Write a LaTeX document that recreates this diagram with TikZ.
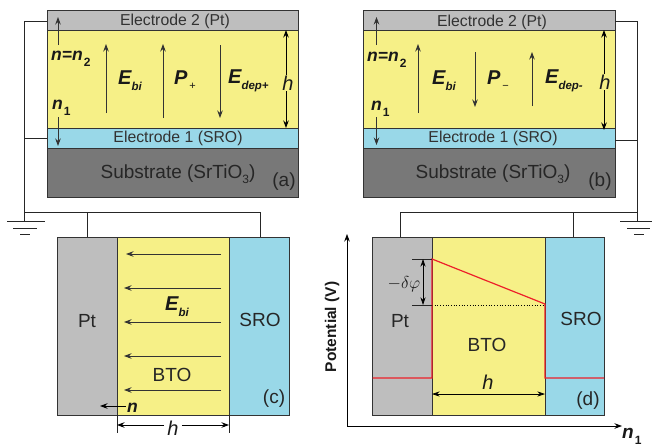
\documentclass[tikz,border=0pt]{standalone}
\usepackage{fontspec}
\setmainfont{Liberation Sans}
\usetikzlibrary{arrows.meta}
\definecolor{ptgray}{RGB}{190,190,190}
\definecolor{btoyel}{RGB}{246,240,135}
\definecolor{sroblue}{RGB}{153,216,232}
\definecolor{subgray}{RGB}{120,120,120}
\definecolor{txt}{RGB}{50,50,50}
\definecolor{redline}{RGB}{237,32,42}
\newcommand{\qty}[3]{{\fontsize{#3}{#3}\selectfont\bfseries\itshape #1}\raisebox{-6pt}{\fontsize{11.5}{11.5}\selectfont\bfseries\itshape #2}}
\newcommand{\qtyn}[3]{{\fontsize{#3}{#3}\selectfont\bfseries\itshape #1}\hspace{1pt}\raisebox{-6pt}{\fontsize{12}{12}\selectfont\bfseries #2}}
\tikzset{
  x=1pt,y=-1pt,
  layer/.style={draw=black!80,line width=0.7pt,inner sep=0pt,outer sep=0pt,anchor=north west,text=txt},
  wire/.style={draw=black!85,line width=0.7pt},
  fld/.style={draw=black!80,line width=0.8pt,-{Stealth[length=7.5pt,width=5.5pt]}},
  dimar/.style={draw=black,line width=0.7pt,{Stealth[length=7.5pt,width=5pt]}-{Stealth[length=7.5pt,width=5pt]}},
  lab/.style={inner sep=0pt,text=txt,font=\fontsize{15.8}{16}\selectfont},
  big/.style={inner sep=0pt,text=black!85,font=\fontsize{19}{20}\selectfont},
  sym/.style={inner sep=0pt,text=black!90},
  hlab/.style={inner sep=0pt,text=black!90,font=\fontsize{20}{20}\selectfont\itshape},
  red/.style={draw=redline,line width=1.2pt}
}
\begin{document}
\begin{tikzpicture}
\useasboundingbox (0,0) rectangle (652,447);
% panel a
\node[layer,fill=ptgray,minimum width=251pt,minimum height=20pt] (aE) at (47,10) {};
\node[lab] at (175,21) {Electrode 2 (Pt)};
\node[layer,fill=btoyel,minimum width=251pt,minimum height=98pt] (aB) at (47,30) {};
\node[layer,fill=sroblue,minimum width=251pt,minimum height=20pt] (aS) at (47,128) {};
\node[lab] at (178,138) {Electrode 1 (SRO)};
\node[layer,fill=subgray,minimum width=251pt,minimum height=49pt] (aG) at (47,148) {};
\node[big] at (178,174) {Substrate (SrTiO\raisebox{-5pt}{\fontsize{12}{12}\selectfont 3})};
\node[big] (alabel) at (284,182) {(a)};
\coordinate (a1) at (58,45); \coordinate (a2) at (58,17);
\draw[fld] (a1) -- (a2);
\coordinate (a3) at (58,117); \coordinate (a4) at (58,146);
\draw[fld] (a3) -- (a4);
\coordinate (a5) at (106,113); \coordinate (a6) at (106,44);
\draw[fld] (a5) -- (a6);
\coordinate (a7) at (163,118); \coordinate (a8) at (163,44);
\draw[fld] (a7) -- (a8);
\coordinate (a9) at (220,45); \coordinate (a10) at (220,118);
\draw[fld] (a9) -- (a10);
\node[sym,anchor=west] at (51,59) {\qtyn{n=n}{2}{17.5}};
\node[sym,anchor=west] at (52,108) {\qtyn{n}{1}{17.5}};
\node[sym,anchor=west] at (118,81) {\qty{E}{bi}{20}};
\node[sym,anchor=west] at (174,81) {\qty{P}{\,\raisebox{1pt}{\textnormal{\fontsize{11}{11}\selectfont +}}}{20}};
\node[sym,anchor=west] at (228,81) {\qty{E}{dep+}{20}};
\node[hlab] (ah) at (288,83) {h};
\coordinate (a11) at (286,30); \coordinate (a12) at (286,128);
\draw[fld,draw=black] (ah.north -| a11) ++(0,-1) -- (a11);
\draw[fld,draw=black] (ah.south -| a11) ++(0,1) -- (a12);
% panel b
\node[layer,fill=ptgray,minimum width=252pt,minimum height=20pt] (bE) at (363,10) {};
\node[lab] at (492,22) {Electrode 2 (Pt)};
\node[layer,fill=btoyel,minimum width=252pt,minimum height=98pt] (bB) at (363,30) {};
\node[layer,fill=sroblue,minimum width=252pt,minimum height=20pt] (bS) at (363,128) {};
\node[lab] at (493,138) {Electrode 1 (SRO)};
\node[layer,fill=subgray,minimum width=252pt,minimum height=49pt] (bG) at (363,148) {};
\node[big] at (493,174) {Substrate (SrTiO\raisebox{-5pt}{\fontsize{12}{12}\selectfont 3})};
\node[big] (blabel) at (600,182) {(b)};
\coordinate (b1) at (376.5,45); \coordinate (b2) at (376.5,17);
\draw[fld] (b1) -- (b2);
\coordinate (b3) at (376.5,117); \coordinate (b4) at (376.5,145);
\draw[fld] (b3) -- (b4);
\coordinate (b5) at (418,113); \coordinate (b6) at (418,44);
\draw[fld] (b5) -- (b6);
\coordinate (b7) at (475,52); \coordinate (b8) at (475,107);
\draw[fld] (b7) -- (b8);
\coordinate (b9) at (532,106); \coordinate (b10) at (532,52);
\draw[fld] (b9) -- (b10);
\node[sym,anchor=west] at (367,60) {\qtyn{n=n}{2}{17.5}};
\node[sym,anchor=west] at (371,109) {\qtyn{n}{1}{17.5}};
\node[sym,anchor=west] at (432,81) {\qty{E}{bi}{20}};
\node[sym,anchor=west] at (487,81) {\qty{P}{\,\raisebox{1pt}{\textnormal{\fontsize{11}{11}\selectfont −}}}{20}};
\node[sym,anchor=west] at (545,81) {\qty{E}{dep-}{20}};
\node[hlab] (bh) at (605,82) {h};
\coordinate (b11) at (604,30); \coordinate (b12) at (604,130);
\draw[fld,draw=black] (bh.north -| b11) ++(0,-1) -- (b11);
\draw[fld,draw=black] (bh.south -| b11) ++(0,1) -- (b12);
% panel c
\node[layer,fill=ptgray,minimum width=60pt,minimum height=178pt] (cP) at (57,237) {};
\node[layer,fill=btoyel,minimum width=112pt,minimum height=178pt] (cB) at (117,237) {};
\node[layer,fill=sroblue,minimum width=60pt,minimum height=178pt] (cS) at (229,237) {};
\node[big] at (87,321) {Pt};
\node[big] at (260,320) {SRO};
\node[big] at (172,375) {BTO};
\node[big] (clabel) at (274,399) {(c)};
\foreach \yy/\xx in {254/126,288/124,322/124,356/124,390/124}{
  \coordinate (cl\yy) at (221,\yy); \coordinate (cr\yy) at (\xx,\yy);
  \draw[fld] (cl\yy) -- (cr\yy);
}
\node[sym,anchor=west] at (165,307) {\qty{E}{bi}{20}};
\node[sym,anchor=west,font=\fontsize{17.5}{18}\selectfont\bfseries\itshape] (cn) at (127,408) {n};
\coordinate (cn2) at (100,406);
\draw[fld,draw=black] (cn.west |- cn2) ++(-1,0) -- (cn2);
\coordinate (ce1) at (117,415); \coordinate (ce2) at (117,433);
\coordinate (ce3) at (229,415); \coordinate (ce4) at (229,433);
\draw[wire] (ce1) -- (ce2);
\draw[wire] (ce3) -- (ce4);
\node[hlab] (ch) at (173,428) {h};
\coordinate (ch1) at (117,425); \coordinate (ch2) at (229,425);
\draw[fld,draw=black] (ch.west |- ch1) ++(-3,0) -- (ch1);
\draw[fld,draw=black] (ch.east |- ch2) ++(3,0) -- (ch2);
% panel d
\node[layer,fill=ptgray,minimum width=60pt,minimum height=178pt] (dP) at (372.5,237) {};
\node[layer,fill=btoyel,minimum width=113pt,minimum height=178pt] (dB) at (432,237) {};
\node[layer,fill=sroblue,minimum width=59pt,minimum height=178pt] (dS) at (545,237) {};
\node[big] at (400,321) {Pt};
\node[big] at (581,319) {SRO};
\node[big] at (487,345) {BTO};
\node[big] (dlabel) at (588,401) {(d)};
\coordinate (d1) at (372.5,378); \coordinate (d2) at (432,378);
\coordinate (d3) at (432,259); \coordinate (d4) at (545,304);
\coordinate (d5) at (545,378); \coordinate (d6) at (604,378);
\draw[black,line width=0.7pt,dotted] (432,305) -- (545,305);
\draw[red] (d1) -- (d2) -- (d3) -- (d4) -- (d5) -- (d6);
\coordinate (d7) at (412,259); \coordinate (d8) at (412,305); \coordinate (d9) at (432,305);
\draw[wire] (d7) -- (d3);
\draw[wire] (d8) -- (d9);
\coordinate (d10) at (423,259); \coordinate (d11) at (423,305);
\draw[dimar] (d10) -- (d11);
\node[sym,font=\fontsize{17}{17}\selectfont] at (404,284) {$-\delta\varphi$};
\node[hlab] at (488,382) {h};
\coordinate (d12) at (432,394); \coordinate (d13) at (545,394);
\draw[dimar] (d12) -- (d13);
% axes
\coordinate (o) at (347,426); \coordinate (yt) at (347,234); \coordinate (xt) at (622,426);
\draw[draw=black,line width=0.7pt,-{Stealth[length=7.5pt,width=5.5pt]}] (o) -- (yt);
\draw[draw=black,line width=0.7pt,-{Stealth[length=7.5pt,width=5.5pt]}] (o) -- (xt);
\node[sym,rotate=90,font=\fontsize{15.5}{16}\selectfont\bfseries] at (332,327) {Potential (V)};
\node[sym,anchor=west] at (622,436) {\qtyn{n}{1}{19}};
% wiring left
\coordinate (w1) at (24.5,21); \coordinate (w2) at (24.5,138); \coordinate (w3) at (24.5,212);
\coordinate (g1) at (24.5,221);
\draw[wire] (aE.west |- w1) -- (w1) -- (g1);
\draw[wire] (aS.west |- w2) -- (w2);
\coordinate (w4) at (87,212); \coordinate (w5) at (260,212);
\draw[wire] (w3) -- (w5);
\draw[wire] (w4) -- (w4 |- cP.north);
\draw[wire] (w5) -- (w5 |- cS.north);
\coordinate (g2) at (7,221); \coordinate (g3) at (45,221);
\coordinate (g4) at (13,228); \coordinate (g5) at (37,228);
\coordinate (g6) at (20,234); \coordinate (g7) at (30,234);
\draw[wire] (g2) -- (g3); \draw[wire] (g4) -- (g5); \draw[wire] (g6) -- (g7);
% wiring right
\coordinate (x1) at (637.5,21); \coordinate (x2) at (637.5,140); \coordinate (x3) at (637.5,212);
\coordinate (y1) at (637.5,221);
\draw[wire] (bE.east |- x1) -- (x1) -- (y1);
\draw[wire] (bS.east |- x2) -- (x2);
\coordinate (x4) at (400,212); \coordinate (x5) at (573,212);
\draw[wire] (x3) -- (x4);
\draw[wire] (x4) -- (x4 |- dP.north);
\draw[wire] (x5) -- (x5 |- dS.north);
\coordinate (y2) at (620,221); \coordinate (y3) at (652,221);
\coordinate (y4) at (627,228); \coordinate (y5) at (650,228);
\coordinate (y6) at (634,234); \coordinate (y7) at (644,234);
\draw[wire] (y2) -- (y3); \draw[wire] (y4) -- (y5); \draw[wire] (y6) -- (y7);
\end{tikzpicture}
\end{document}
